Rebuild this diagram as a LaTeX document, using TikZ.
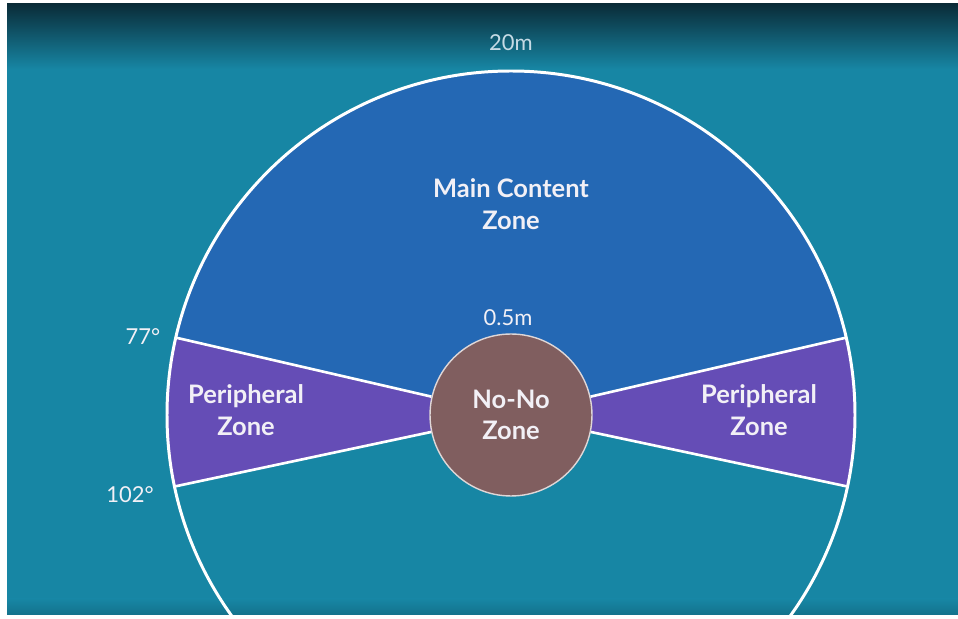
\documentclass[tikz,border=0pt]{standalone}
\usepackage{fontspec}
\setmainfont{Lato}
\usetikzlibrary{positioning}
\definecolor{bgteal}{RGB}{23, 134, 164}
\definecolor{bgdark}{RGB}{10, 44, 56}
\definecolor{maincol}{RGB}{36, 104, 180}
\definecolor{periph}{RGB}{101, 77, 182}
\definecolor{nonocol}{RGB}{128, 94, 95}
\definecolor{txtcol}{RGB}{242, 240, 246}

\begin{document}
\begin{tikzpicture}[
  x=0.02cm, y=0.02cm,
  zone/.style  = {font=\fontsize{14.5}{18}\selectfont\bfseries,
                  text=txtcol, align=center},
  dim/.style   = {font=\fontsize{12.5}{15}\selectfont, text=txtcol},
  ring/.style  = {draw=white, line width=1.7pt},
  edge/.style  = {draw=white, line width=1.5pt},
  hub/.style   = {circle, fill=nonocol, draw=white!75!nonocol, line width=0.8pt,
                  minimum size=3.24cm, inner sep=0pt},
]
  \useasboundingbox (0,0) rectangle (958,619);
  \fill[white] (0,0) rectangle (958,619);

  \begin{scope}
    \clip (7,4) rectangle (958,615);
    % Background
    \fill[bgteal] (7,4) rectangle (958,615);
    \shade[top color=bgdark, bottom color=bgteal] (7,550) rectangle (958,615);
    \shade[top color=bgteal, bottom color=bgteal!85!black] (7,4) rectangle (958,20);

    \coordinate (c) at (511,204);
    \path (c) ++(13:344) coordinate (ur);
    \path (c) ++(167:344) coordinate (ul);
    \path (c) ++(192:344) coordinate (ll);
    \path (c) ++(-12:344) coordinate (lr);

    % Main content zone
    \fill[maincol] (c) -- (ur) arc[start angle=13, end angle=167, radius=344] -- cycle;

    % Peripheral zones
    \fill[periph] (c) -- (ul) arc[start angle=167, end angle=192, radius=344] -- cycle;
    \fill[periph] (c) -- (lr) arc[start angle=-12, end angle=13, radius=344] -- cycle;

    % Outer ring
    \draw[ring] (c) circle[radius=344];

    % No-No zone
    \node[hub] (nono) at (c) {};
    \node[zone] (nonotxt) at (c) {No-No\\Zone};

    % Borders
    \draw[edge] (nono.167) -- (ul);
    \draw[edge] (nono.192) -- (ll);
    \draw[edge] (nono.13)  -- (ur);
    \draw[edge] (nono.-12) -- (lr);
  \end{scope}

  % Labels
  \node[zone] (main)  at (511,415) {Main Content\\Zone};
  \node[zone] (pleft) at (246,209) {Peripheral\\Zone};
  \node[zone] (pright) at (759,209) {Peripheral\\Zone};
  \node[dim, text=txtcol!80!bgteal] (far) at (511,576) {20m};
  \node[dim] (near) at (508,301) {0.5m};
  \node[dim] (top) at (143,282) {77°};
  \node[dim] (bot) at (130,124) {102°};
\end{tikzpicture}
\end{document}
